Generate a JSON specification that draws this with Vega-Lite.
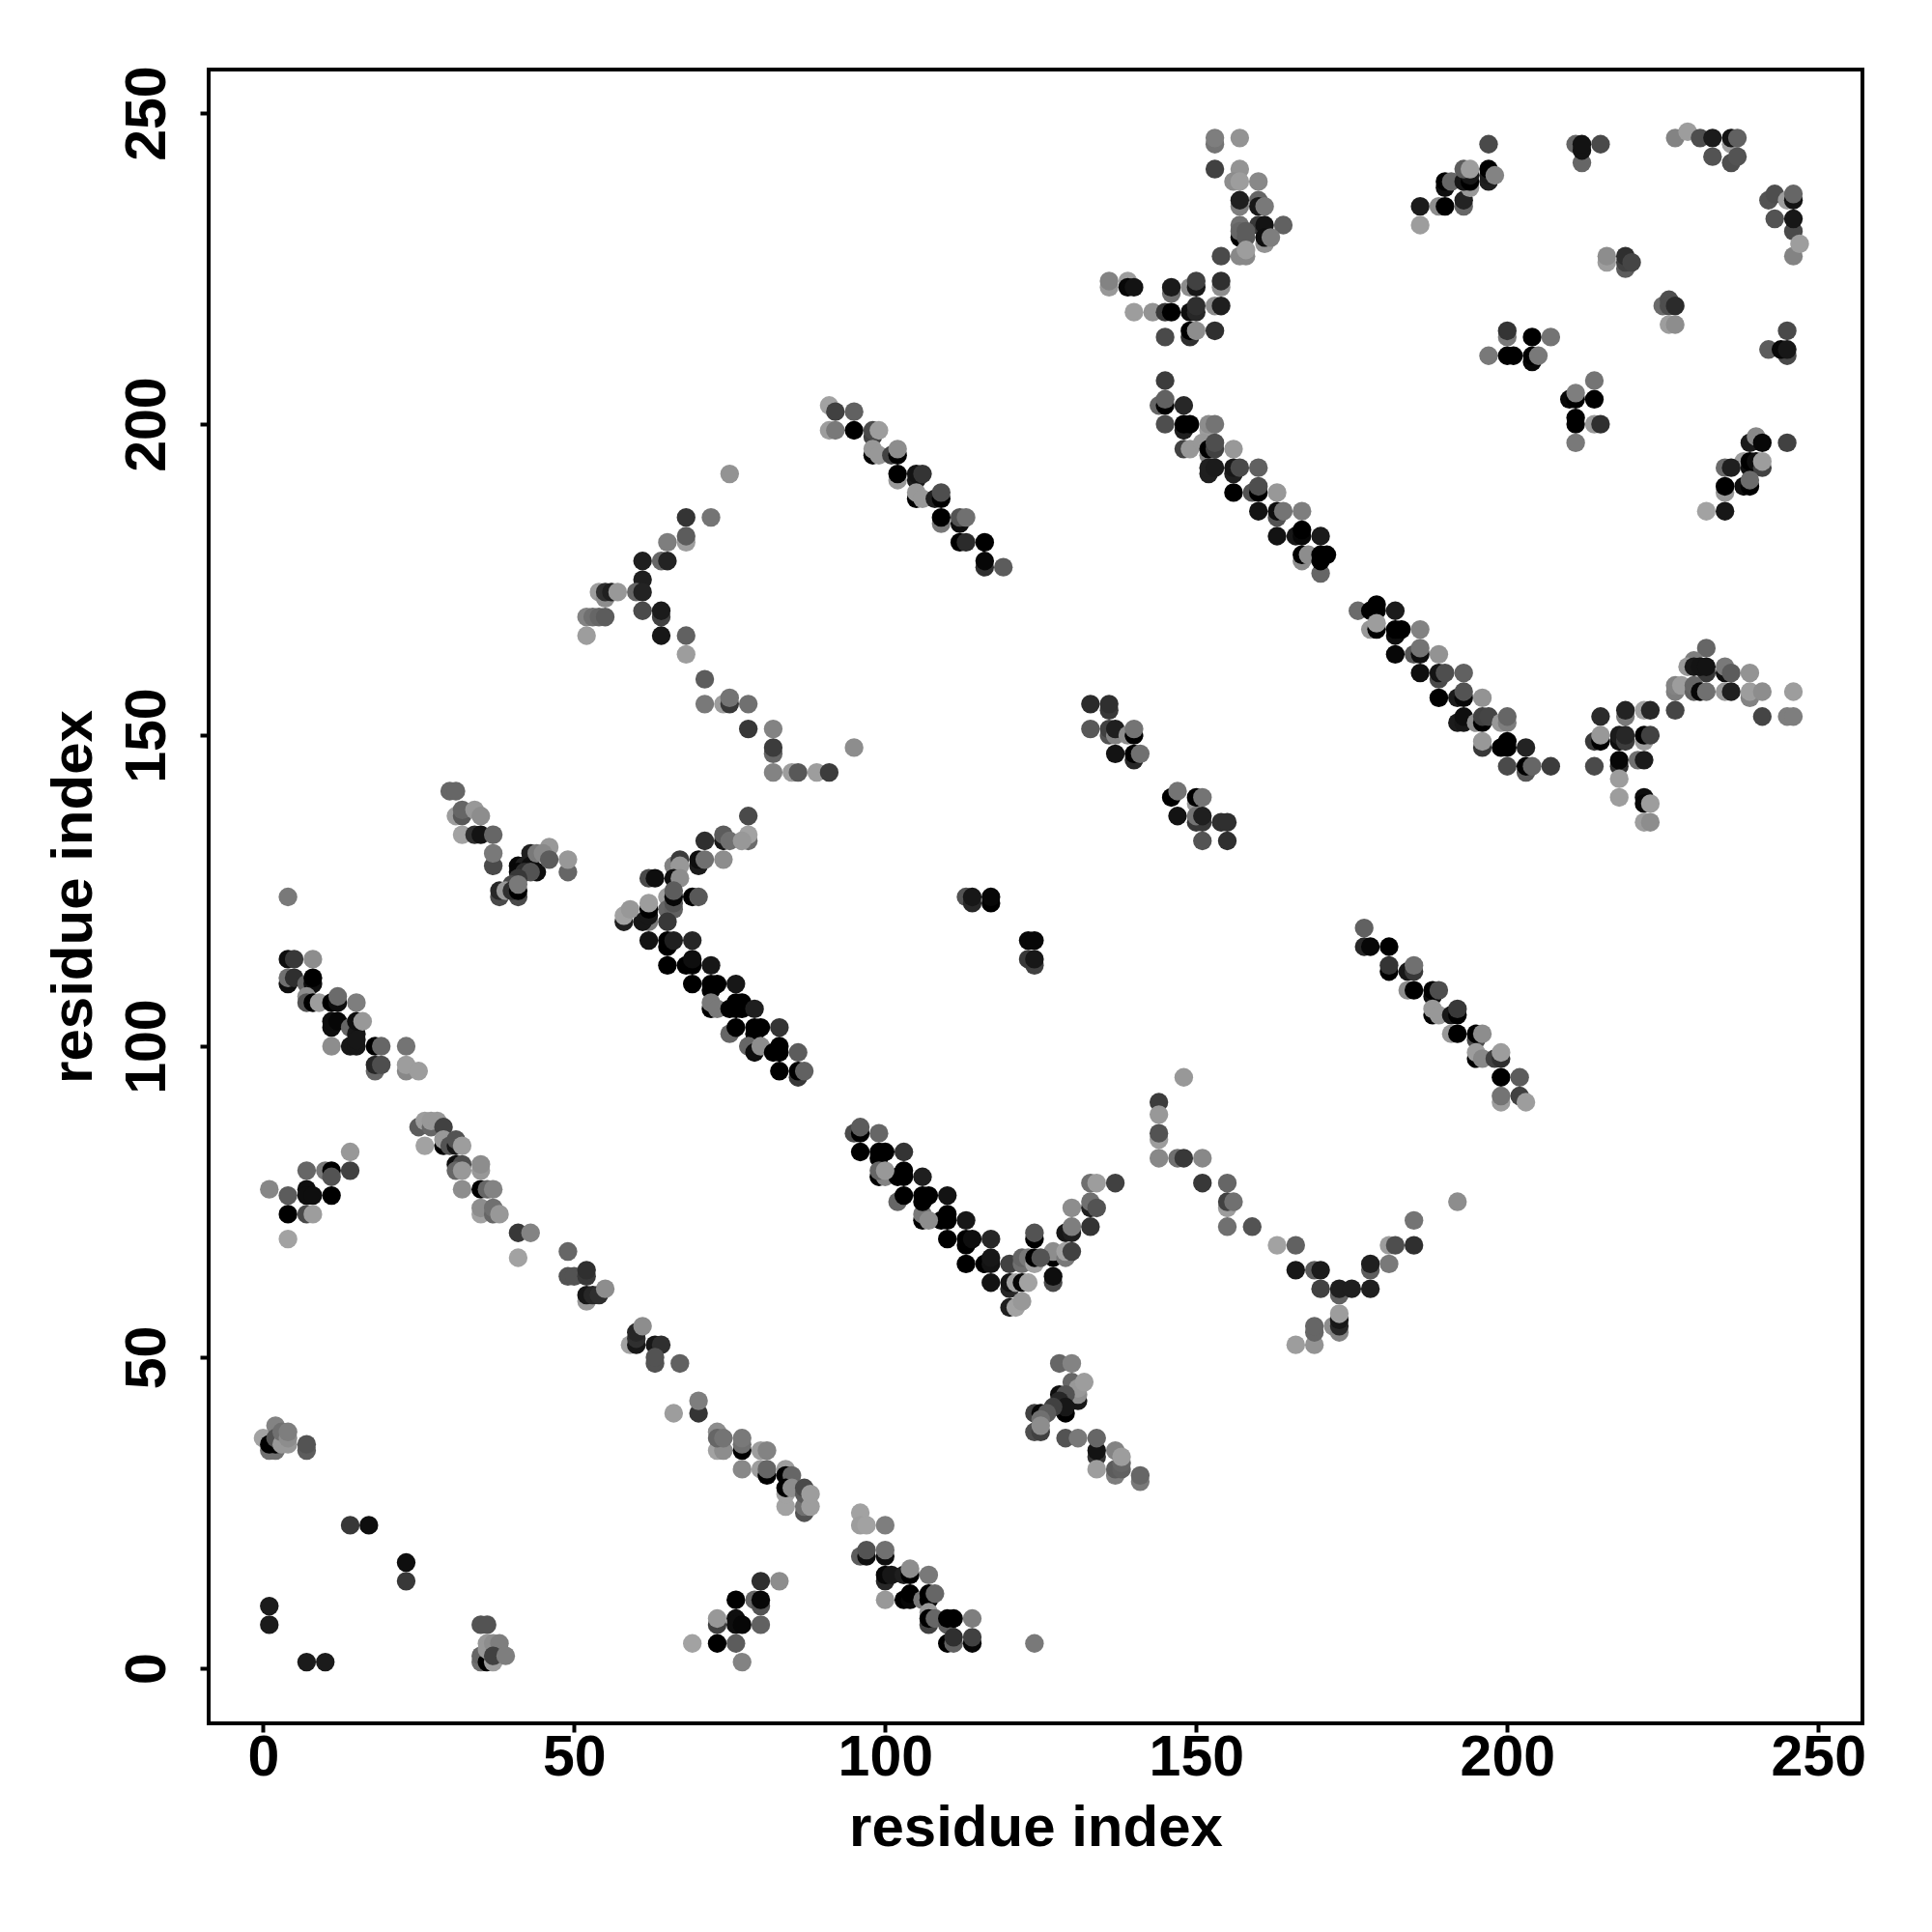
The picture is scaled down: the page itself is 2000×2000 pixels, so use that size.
{"$schema":"https://vega.github.io/schema/vega-lite/v6.json","width":1712,"height":1712,"autosize":{"type":"none"},"padding":{"left":216,"top":72,"right":72,"bottom":216},"background":"white","config":{"view":{"stroke":"black","strokeWidth":4},"axis":{"grid":false,"domain":false,"ticks":true,"tickSize":9,"tickWidth":4,"tickColor":"black","labelColor":"black","titleColor":"black","labelFont":"Liberation Sans","titleFont":"Liberation Sans","labelFontWeight":"bold","titleFontWeight":"bold","labelFontSize":59,"titleFontSize":60}},"data":{"values":[
{"i":1,"j":77,"v":144},{"i":4,"j":76,"v":100},{"i":7,"j":80,"v":110},{"i":10,"j":80,"v":130},{"i":11,"j":80,"v":0},{"i":14,"j":80,"v":70},{"i":14,"j":83,"v":160},{"i":11,"j":79,"v":90},{"i":7,"j":77,"v":10},{"i":7,"j":76,"v":10},{"i":8,"j":76,"v":10},{"i":11,"j":76,"v":0},{"i":4,"j":73,"v":0},{"i":7,"j":73,"v":80},{"i":8,"j":73,"v":165},{"i":4,"j":69,"v":170},
{"i":32,"j":77,"v":150},{"i":35,"j":77,"v":0},{"i":36,"j":77,"v":110},{"i":37,"j":77,"v":140},{"i":35,"j":73,"v":170},{"i":35,"j":74,"v":150},{"i":37,"j":73,"v":110},{"i":37,"j":74,"v":120},{"i":38,"j":73,"v":160},{"i":41,"j":70,"v":60},{"i":43,"j":70,"v":140},{"i":41,"j":66,"v":170},{"i":49,"j":67,"v":110},{"i":49,"j":63,"v":90},{"i":50,"j":63,"v":90},{"i":52,"j":63,"v":60},{"i":52,"j":64,"v":50},{"i":52,"j":59,"v":160},{"i":52,"j":60,"v":20},{"i":53,"j":60,"v":40},{"i":54,"j":60,"v":50},{"i":55,"j":61,"v":150},{"i":59,"j":52,"v":170},{"i":60,"j":52,"v":20},{"i":60,"j":53,"v":50},{"i":60,"j":54,"v":40},{"i":61,"j":55,"v":150},{"i":63,"j":52,"v":20},{"i":64,"j":52,"v":50},{"i":63,"j":49,"v":90},{"i":63,"j":50,"v":90},{"i":67,"j":49,"v":105},{"i":66,"j":41,"v":165},{"i":70,"j":41,"v":55},{"i":70,"j":43,"v":135},{"i":73,"j":35,"v":170},{"i":74,"j":35,"v":150},{"i":73,"j":38,"v":150},{"i":73,"j":37,"v":110},{"i":74,"j":37,"v":125},{"i":77,"j":35,"v":0},{"i":77,"j":36,"v":120},{"i":77,"j":37,"v":130},{"i":77,"j":32,"v":145},{"i":80,"j":35,"v":165},{"i":81,"j":35,"v":140},{"i":80,"j":32,"v":165},{"i":81,"j":31,"v":0},{"i":81,"j":32,"v":110},{"i":84,"j":32,"v":165},{"i":84,"j":31,"v":0},{"i":85,"j":31,"v":110},{"i":84,"j":26,"v":170},{"i":84,"j":28,"v":170},{"i":84,"j":29,"v":0},{"i":85,"j":29,"v":150},{"i":87,"j":25,"v":90},{"i":87,"j":26,"v":120},{"i":87,"j":28,"v":100},{"i":87,"j":29,"v":80},{"i":88,"j":26,"v":165},{"i":88,"j":28,"v":165},
{"i":1,"j":10,"v":25},{"i":1,"j":7,"v":25},{"i":7,"j":1,"v":25},{"i":10,"j":1,"v":25},{"i":14,"j":23,"v":60},{"i":17,"j":23,"v":10},{"i":23,"j":17,"v":10},{"i":23,"j":14,"v":60},{"i":35,"j":7,"v":90},{"i":36,"j":7,"v":90},{"i":35,"j":1,"v":120},{"i":35,"j":2,"v":110},{"i":36,"j":1,"v":0},{"i":37,"j":1,"v":165},{"i":36,"j":4,"v":160},{"i":36,"j":3,"v":160},{"i":37,"j":4,"v":150},{"i":38,"j":4,"v":135},{"i":37,"j":2,"v":70},{"i":39,"j":2,"v":135},
{"i":0,"j":37,"v":170},{"i":1,"j":35,"v":120},{"i":2,"j":35,"v":120},{"i":1,"j":36,"v":0},{"i":2,"j":36,"v":0},{"i":2,"j":39,"v":140},{"i":2,"j":37,"v":90},{"i":3,"j":36,"v":160},{"i":3,"j":38,"v":120},{"i":4,"j":36,"v":160},{"i":4,"j":37,"v":150},{"i":4,"j":38,"v":135},{"i":7,"j":35,"v":100},{"i":7,"j":36,"v":90},
{"i":76,"j":11,"v":0},{"i":73,"j":7,"v":70},{"i":73,"j":8,"v":160},{"i":76,"j":8,"v":10},{"i":76,"j":7,"v":10},{"i":69,"j":4,"v":170},{"i":73,"j":4,"v":0},{"i":76,"j":4,"v":100},{"i":77,"j":1,"v":140},{"i":80,"j":14,"v":50},{"i":83,"j":14,"v":150},{"i":79,"j":11,"v":110},{"i":80,"j":10,"v":90},{"i":80,"j":11,"v":5},{"i":77,"j":7,"v":5},{"i":80,"j":7,"v":105},
{"i":96,"j":25,"v":170},{"i":96,"j":23,"v":165},{"i":97,"j":23,"v":170},{"i":100,"j":23,"v":135},{"i":96,"j":18,"v":100},{"i":97,"j":18,"v":10},{"i":97,"j":19,"v":90},{"i":100,"j":18,"v":10},{"i":100,"j":19,"v":120},{"i":100,"j":14,"v":40},{"i":100,"j":15,"v":5},{"i":101,"j":15,"v":20},{"i":103,"j":15,"v":30},{"i":104,"j":15,"v":0},{"i":104,"j":16,"v":150},{"i":107,"j":15,"v":130},{"i":100,"j":11,"v":160},{"i":103,"j":11,"v":0},{"i":104,"j":11,"v":5},{"i":104,"j":12,"v":0},{"i":106,"j":11,"v":130},{"i":107,"j":11,"v":0},{"i":107,"j":12,"v":0},{"i":108,"j":12,"v":110},{"i":107,"j":9,"v":160},{"i":107,"j":7,"v":70},{"i":107,"j":8,"v":0},{"i":108,"j":8,"v":110},{"i":110,"j":7,"v":100},{"i":110,"j":8,"v":0},{"i":111,"j":8,"v":0},{"i":114,"j":8,"v":135},{"i":110,"j":4,"v":0},{"i":111,"j":4,"v":105},{"i":111,"j":5,"v":50},{"i":114,"j":4,"v":5},{"i":114,"j":5,"v":70},{"i":124,"j":4,"v":130},
{"i":128,"j":49,"v":110},{"i":130,"j":49,"v":140},{"i":131,"j":43,"v":20},{"i":130,"j":46,"v":110},{"i":131,"j":44,"v":150},{"i":131,"j":45,"v":160},{"i":132,"j":46,"v":165},{"i":128,"j":44,"v":10},{"i":129,"j":44,"v":90},{"i":128,"j":43,"v":40},{"i":129,"j":41,"v":0},{"i":129,"j":42,"v":20},{"i":127,"j":42,"v":70},{"i":124,"j":41,"v":70},{"i":125,"j":41,"v":5},{"i":126,"j":41,"v":100},{"i":124,"j":38,"v":85},{"i":125,"j":38,"v":70},{"i":125,"j":40,"v":120},{"i":125,"j":39,"v":150},{"i":129,"j":37,"v":90},{"i":131,"j":37,"v":130},{"i":134,"j":34,"v":55},{"i":134,"j":35,"v":15},{"i":134,"j":37,"v":110},{"i":134,"j":32,"v":165},{"i":137,"j":35,"v":140},{"i":137,"j":31,"v":135},{"i":137,"j":32,"v":100},{"i":138,"j":32,"v":105},{"i":138,"j":33,"v":110},{"i":138,"j":34,"v":165},{"i":141,"j":30,"v":130},{"i":141,"j":31,"v":110},
{"i":137,"j":78,"v":70},{"i":133,"j":78,"v":120},{"i":134,"j":78,"v":165},{"i":130,"j":74,"v":150},{"i":133,"j":74,"v":30},{"i":133,"j":75,"v":120},{"i":134,"j":74,"v":90},{"i":133,"j":71,"v":55},{"i":129,"j":70,"v":20},{"i":130,"j":70,"v":30},{"i":130,"j":71,"v":135},{"i":124,"j":69,"v":0},{"i":124,"j":70,"v":90},{"i":127,"j":66,"v":0},{"i":127,"j":67,"v":150},{"i":129,"j":66,"v":130},{"i":129,"j":67,"v":170},{"i":130,"j":67,"v":70},{"i":120,"j":65,"v":70},{"i":122,"j":65,"v":120},{"i":122,"j":66,"v":110},{"i":123,"j":66,"v":130},{"i":124,"j":65,"v":170},{"i":124,"j":66,"v":0},{"i":125,"j":66,"v":90},{"i":127,"j":62,"v":80},{"i":127,"j":63,"v":10},{"i":117,"j":62,"v":15},{"i":120,"j":61,"v":40},{"i":120,"j":62,"v":15},{"i":121,"j":62,"v":170},{"i":122,"j":62,"v":5},{"i":123,"j":62,"v":170},{"i":120,"j":58,"v":30},{"i":121,"j":58,"v":170},{"i":122,"j":59,"v":160},
{"i":113,"j":65,"v":0},{"i":116,"j":65,"v":0},{"i":117,"j":65,"v":15},{"i":117,"j":66,"v":20},{"i":117,"j":69,"v":40},{"i":113,"j":68,"v":0},{"i":113,"j":69,"v":0},{"i":114,"j":69,"v":10},{"i":110,"j":69,"v":0},{"i":113,"j":72,"v":20},{"i":109,"j":72,"v":0},{"i":110,"j":72,"v":0},{"i":110,"j":73,"v":0},{"i":106,"j":72,"v":0},{"i":106,"j":73,"v":130},{"i":107,"j":72,"v":150},{"i":102,"j":75,"v":110},{"i":103,"j":76,"v":0},{"i":106,"j":75,"v":0},{"i":106,"j":76,"v":0},{"i":107,"j":76,"v":0},{"i":110,"j":76,"v":15},{"i":106,"j":79,"v":30},{"i":99,"j":79,"v":0},{"i":100,"j":79,"v":140},{"i":102,"j":79,"v":0},{"i":103,"j":79,"v":0},
{"i":95,"j":86,"v":80},{"i":96,"j":86,"v":0},{"i":96,"j":87,"v":100},{"i":99,"j":86,"v":110},{"i":96,"j":83,"v":0},{"i":99,"j":82,"v":0},{"i":99,"j":83,"v":0},{"i":100,"j":83,"v":0},{"i":103,"j":83,"v":55},{"i":99,"j":80,"v":110},{"i":100,"j":80,"v":160},{"i":103,"j":80,"v":0},
{"i":144,"j":91,"v":65},{"i":148,"j":95,"v":160},{"i":144,"j":89,"v":160},{"i":144,"j":85,"v":165},{"i":144,"j":86,"v":90},{"i":144,"j":82,"v":145},{"i":147,"j":82,"v":120},{"i":148,"j":82,"v":60},{"i":151,"j":82,"v":145},{"i":151,"j":78,"v":60},{"i":155,"j":78,"v":110},{"i":155,"j":74,"v":165},{"i":155,"j":75,"v":70},{"i":156,"j":75,"v":120},{"i":155,"j":71,"v":120},{"i":159,"j":71,"v":90},{"i":163,"j":68,"v":170},{"i":166,"j":68,"v":105},{"i":166,"j":64,"v":20},{"i":169,"j":64,"v":100},{"i":170,"j":64,"v":25},{"i":170,"j":61,"v":70},{"i":173,"j":60,"v":105},{"i":173,"j":61,"v":30},{"i":175,"j":61,"v":30},{"i":178,"j":61,"v":30},{"i":172,"j":55,"v":150},{"i":173,"j":54,"v":140},{"i":173,"j":55,"v":40},{"i":173,"j":56,"v":20},{"i":173,"j":57,"v":165},{"i":166,"j":52,"v":165},{"i":169,"j":52,"v":155},{"i":169,"j":54,"v":110},{"i":169,"j":55,"v":110},{"i":178,"j":64,"v":100},{"i":178,"j":65,"v":30},{"i":181,"j":65,"v":130},{"i":181,"j":68,"v":165},{"i":182,"j":68,"v":85},{"i":185,"j":68,"v":50},{"i":185,"j":72,"v":125},{"i":192,"j":75,"v":150},
{"i":4,"j":124,"v":130},{"i":30,"j":141,"v":110},{"i":31,"j":141,"v":110},{"i":31,"j":137,"v":165},{"i":32,"j":137,"v":95},{"i":32,"j":138,"v":110},{"i":34,"j":138,"v":160},{"i":35,"j":137,"v":150},{"i":32,"j":134,"v":170},{"i":34,"j":134,"v":50},{"i":35,"j":134,"v":15},{"i":37,"j":134,"v":110},{"i":37,"j":129,"v":80},{"i":37,"j":131,"v":130},{"i":49,"j":128,"v":110},{"i":49,"j":130,"v":160},{"i":46,"j":132,"v":160},{"i":43,"j":131,"v":30},{"i":41,"j":129,"v":5},{"i":42,"j":129,"v":30},{"i":43,"j":129,"v":10},{"i":44,"j":128,"v":10},{"i":44,"j":131,"v":130},{"i":45,"j":131,"v":145},{"i":46,"j":130,"v":100},{"i":41,"j":128,"v":5},{"i":42,"j":128,"v":50},{"i":43,"j":128,"v":90},{"i":41,"j":127,"v":60},{"i":40,"j":126,"v":80},{"i":38,"j":124,"v":80},{"i":38,"j":125,"v":40},{"i":39,"j":125,"v":160},{"i":41,"j":124,"v":80},{"i":40,"j":125,"v":50},{"i":41,"j":125,"v":0},{"i":41,"j":126,"v":130},
{"i":4,"j":114,"v":10},{"i":5,"j":114,"v":60},{"i":8,"j":114,"v":150},{"i":4,"j":110,"v":10},{"i":4,"j":111,"v":120},{"i":5,"j":111,"v":50},{"i":7,"j":110,"v":110},{"i":8,"j":110,"v":10},{"i":8,"j":111,"v":0},{"i":7,"j":108,"v":150},{"i":7,"j":107,"v":90},{"i":8,"j":107,"v":0},{"i":9,"j":107,"v":165},{"i":11,"j":107,"v":0},{"i":12,"j":107,"v":10},{"i":12,"j":108,"v":115},{"i":15,"j":107,"v":135},{"i":11,"j":103,"v":10},{"i":11,"j":104,"v":10},{"i":12,"j":104,"v":5},{"i":14,"j":103,"v":110},{"i":15,"j":102,"v":20},{"i":15,"j":104,"v":10},{"i":16,"j":104,"v":160},{"i":11,"j":100,"v":150},{"i":14,"j":100,"v":20},{"i":15,"j":100,"v":20},{"i":15,"j":101,"v":20},{"i":18,"j":100,"v":0},{"i":19,"j":100,"v":110},{"i":23,"j":100,"v":125},{"i":18,"j":96,"v":110},{"i":18,"j":97,"v":40},{"i":19,"j":97,"v":85},{"i":23,"j":96,"v":145},{"i":23,"j":97,"v":165},{"i":25,"j":96,"v":165},
{"i":71,"j":159,"v":100},{"i":75,"j":192,"v":155},{"i":68,"j":185,"v":55},{"i":72,"j":185,"v":125},{"i":65,"j":181,"v":135},{"i":68,"j":181,"v":165},{"i":68,"j":182,"v":100},{"i":61,"j":178,"v":30},{"i":64,"j":178,"v":110},{"i":65,"j":178,"v":35},{"i":61,"j":175,"v":30},{"i":60,"j":173,"v":110},{"i":61,"j":173,"v":35},{"i":54,"j":173,"v":165},{"i":55,"j":172,"v":150},{"i":55,"j":173,"v":50},{"i":56,"j":173,"v":30},{"i":57,"j":173,"v":160},{"i":61,"j":170,"v":80},{"i":64,"j":169,"v":70},{"i":64,"j":170,"v":25},{"i":52,"j":169,"v":140},{"i":53,"j":169,"v":120},{"i":54,"j":169,"v":110},{"i":55,"j":169,"v":100},{"i":52,"j":166,"v":165},{"i":64,"j":166,"v":20},{"i":68,"j":166,"v":105},{"i":68,"j":163,"v":165},{"i":71,"j":155,"v":130},{"i":74,"j":155,"v":165},{"i":75,"j":155,"v":60},{"i":75,"j":156,"v":125},{"i":78,"j":155,"v":120},{"i":78,"j":151,"v":60},{"i":82,"j":151,"v":140},{"i":82,"j":147,"v":110},{"i":82,"j":148,"v":65},{"i":82,"j":144,"v":140},{"i":85,"j":144,"v":165},{"i":86,"j":144,"v":95},{"i":89,"j":144,"v":165},{"i":91,"j":144,"v":65},{"i":95,"j":148,"v":150},
{"i":78,"j":133,"v":115},{"i":78,"j":134,"v":170},{"i":78,"j":137,"v":80},{"i":71,"j":133,"v":50},{"i":74,"j":133,"v":20},{"i":74,"j":134,"v":100},{"i":75,"j":133,"v":120},{"i":70,"j":129,"v":25},{"i":70,"j":130,"v":10},{"i":71,"j":130,"v":120},{"i":74,"j":130,"v":150},{"i":66,"j":129,"v":140},{"i":67,"j":130,"v":65},{"i":67,"j":129,"v":160},{"i":62,"j":127,"v":80},{"i":63,"j":127,"v":10},{"i":66,"j":127,"v":10},{"i":67,"j":127,"v":150},{"i":77,"j":133,"v":160},
{"i":65,"j":124,"v":165},{"i":65,"j":122,"v":110},{"i":66,"j":122,"v":105},{"i":66,"j":123,"v":90},{"i":66,"j":124,"v":5},{"i":66,"j":125,"v":100},{"i":69,"j":124,"v":0},{"i":70,"j":124,"v":95},{"i":65,"j":120,"v":60},{"i":62,"j":120,"v":130},{"i":61,"j":120,"v":20},{"i":62,"j":121,"v":20},{"i":62,"j":122,"v":0},{"i":62,"j":123,"v":165},{"i":58,"j":120,"v":30},{"i":58,"j":121,"v":170},{"i":59,"j":122,"v":160},{"i":62,"j":117,"v":15},{"i":65,"j":116,"v":0},{"i":65,"j":117,"v":0},{"i":66,"j":117,"v":30},{"i":69,"j":117,"v":40},{"i":65,"j":113,"v":0},{"i":68,"j":113,"v":0},{"i":69,"j":113,"v":0},{"i":69,"j":114,"v":10},{"i":72,"j":113,"v":20},{"i":69,"j":110,"v":0},{"i":72,"j":109,"v":0},{"i":72,"j":110,"v":0},{"i":73,"j":110,"v":0},{"i":76,"j":110,"v":20},{"i":72,"j":106,"v":0},{"i":72,"j":107,"v":130},{"i":73,"j":106,"v":130},{"i":75,"j":106,"v":0},{"i":76,"j":106,"v":0},{"i":76,"j":107,"v":0},{"i":77,"j":106,"v":0},{"i":77,"j":107,"v":0},{"i":75,"j":102,"v":110},{"i":76,"j":103,"v":0},{"i":79,"j":106,"v":30},{"i":79,"j":102,"v":0},{"i":79,"j":103,"v":0},{"i":80,"j":103,"v":0},{"i":83,"j":103,"v":55},{"i":78,"j":100,"v":110},{"i":79,"j":99,"v":10},{"i":80,"j":100,"v":150},{"i":82,"j":99,"v":0},{"i":83,"j":99,"v":0},{"i":83,"j":100,"v":0},{"i":86,"j":99,"v":100},{"i":83,"j":96,"v":0},{"i":86,"j":95,"v":60},{"i":86,"j":96,"v":0},{"i":87,"j":96,"v":105},
{"i":113,"j":124,"v":90},{"i":114,"j":123,"v":40},{"i":114,"j":124,"v":20},{"i":117,"j":123,"v":0},{"i":117,"j":124,"v":5},{"i":123,"j":117,"v":5},{"i":124,"j":117,"v":5},{"i":124,"j":113,"v":70},{"i":123,"j":114,"v":60},{"i":124,"j":114,"v":20},
{"i":133,"j":155,"v":45},{"i":136,"j":154,"v":60},{"i":136,"j":155,"v":50},{"i":133,"j":151,"v":95},{"i":136,"j":150,"v":90},{"i":136,"j":151,"v":70},{"i":137,"j":150,"v":140},{"i":137,"j":151,"v":30},{"i":139,"j":150,"v":150},{"i":140,"j":150,"v":0},{"i":140,"j":151,"v":125},{"i":137,"j":147,"v":15},{"i":140,"j":146,"v":40},{"i":140,"j":147,"v":0},{"i":141,"j":147,"v":120},{"i":146,"j":140,"v":0},{"i":147,"j":141,"v":125},{"i":150,"j":139,"v":160},{"i":150,"j":140,"v":0},{"i":151,"j":140,"v":125},{"i":147,"j":137,"v":15},{"i":150,"j":136,"v":60},{"i":151,"j":136,"v":60},{"i":150,"j":137,"v":125},{"i":151,"j":137,"v":30},{"i":154,"j":136,"v":50},{"i":155,"j":136,"v":50},{"i":151,"j":133,"v":90},{"i":155,"j":133,"v":50},
{"i":177,"j":119,"v":105},{"i":177,"j":116,"v":40},{"i":178,"j":116,"v":5},{"i":181,"j":116,"v":0},{"i":181,"j":112,"v":0},{"i":181,"j":113,"v":55},{"i":184,"j":112,"v":20},{"i":185,"j":112,"v":60},{"i":185,"j":113,"v":120},{"i":184,"j":109,"v":150},{"i":185,"j":109,"v":0},{"i":188,"j":108,"v":10},{"i":188,"j":109,"v":0},{"i":189,"j":109,"v":85},{"i":188,"j":105,"v":0},{"i":188,"j":106,"v":160},{"i":189,"j":105,"v":160},{"i":191,"j":105,"v":20},{"i":192,"j":105,"v":0},{"i":192,"j":106,"v":60},{"i":191,"j":102,"v":160},{"i":192,"j":102,"v":0},{"i":195,"j":101,"v":80},{"i":195,"j":102,"v":0},{"i":196,"j":102,"v":150},{"i":195,"j":98,"v":0},{"i":195,"j":99,"v":165},{"i":196,"j":98,"v":145},{"i":198,"j":98,"v":70},{"i":199,"j":98,"v":50},{"i":199,"j":99,"v":165},{"i":199,"j":95,"v":0},{"i":202,"j":95,"v":100},{"i":199,"j":91,"v":165},{"i":199,"j":92,"v":125},{"i":202,"j":92,"v":70},{"i":203,"j":91,"v":165},
{"i":176,"j":170,"v":115},{"i":178,"j":170,"v":0},{"i":179,"j":170,"v":0},{"i":179,"j":171,"v":0},{"i":182,"j":170,"v":25},{"i":178,"j":167,"v":160},{"i":179,"j":167,"v":0},{"i":179,"j":168,"v":165},{"i":182,"j":166,"v":10},{"i":182,"j":167,"v":0},{"i":183,"j":167,"v":0},{"i":186,"j":167,"v":140},{"i":182,"j":163,"v":5},{"i":185,"j":163,"v":95},{"i":186,"j":163,"v":10},{"i":186,"j":164,"v":125},{"i":189,"j":163,"v":155},{"i":186,"j":160,"v":10},{"i":189,"j":159,"v":80},{"i":189,"j":160,"v":15},{"i":190,"j":160,"v":85},{"i":193,"j":160,"v":105},{"i":189,"j":156,"v":0},{"i":192,"j":156,"v":25},{"i":193,"j":156,"v":5},{"i":193,"j":157,"v":90},{"i":196,"j":156,"v":155},{"i":192,"j":152,"v":25},{"i":193,"j":152,"v":20},{"i":193,"j":153,"v":10},{"i":195,"j":152,"v":150},{"i":196,"j":152,"v":0},{"i":196,"j":153,"v":70},{"i":197,"j":153,"v":75},{"i":199,"j":152,"v":160},{"i":200,"j":152,"v":135},{"i":200,"j":153,"v":110},{"i":196,"j":148,"v":60},{"i":196,"j":149,"v":160},{"i":199,"j":148,"v":0},{"i":200,"j":148,"v":0},{"i":200,"j":149,"v":0},{"i":203,"j":148,"v":35},{"i":200,"j":145,"v":80},{"i":203,"j":144,"v":95},{"i":203,"j":145,"v":0},{"i":204,"j":145,"v":110},{"i":207,"j":145,"v":65},
{"i":145,"j":207,"v":65},{"i":144,"j":203,"v":110},{"i":145,"j":203,"v":0},{"i":145,"j":204,"v":105},{"i":148,"j":203,"v":40},{"i":145,"j":200,"v":85},{"i":148,"j":199,"v":30},{"i":148,"j":200,"v":0},{"i":149,"j":200,"v":0},{"i":152,"j":199,"v":165},{"i":152,"j":200,"v":150},{"i":153,"j":200,"v":125},{"i":148,"j":196,"v":70},{"i":149,"j":196,"v":160},{"i":151,"j":197,"v":160},{"i":152,"j":195,"v":140},{"i":152,"j":196,"v":0},{"i":153,"j":196,"v":70},{"i":153,"j":197,"v":85},{"i":156,"j":196,"v":160},{"i":152,"j":192,"v":30},{"i":152,"j":193,"v":30},{"i":153,"j":193,"v":25},{"i":156,"j":192,"v":30},{"i":156,"j":193,"v":20},{"i":157,"j":193,"v":80},{"i":160,"j":193,"v":105},{"i":156,"j":189,"v":0},{"i":159,"j":189,"v":90},{"i":160,"j":189,"v":0},{"i":160,"j":190,"v":85},{"i":163,"j":189,"v":160},{"i":160,"j":186,"v":15},{"i":163,"j":185,"v":90},{"i":163,"j":186,"v":10},{"i":164,"j":186,"v":125},{"i":167,"j":186,"v":135},{"i":163,"j":182,"v":15},{"i":166,"j":182,"v":20},{"i":167,"j":182,"v":5},{"i":167,"j":183,"v":0},{"i":170,"j":182,"v":25},{"i":167,"j":178,"v":150},{"i":167,"j":179,"v":0},{"i":168,"j":179,"v":150},{"i":170,"j":176,"v":110},{"i":170,"j":178,"v":0},{"i":170,"j":179,"v":0},{"i":171,"j":179,"v":0},
{"i":210,"j":204,"v":5},{"i":211,"j":204,"v":0},{"i":211,"j":205,"v":135},{"i":214,"j":204,"v":0},{"i":214,"j":207,"v":125},{"i":211,"j":200,"v":0},{"i":211,"j":201,"v":0},{"i":214,"j":200,"v":160},{"i":215,"j":200,"v":50},{"i":211,"j":197,"v":130},
{"i":245,"j":197,"v":70},{"i":239,"j":197,"v":25},{"i":240,"j":198,"v":145},{"i":241,"j":197,"v":5},{"i":238,"j":194,"v":165},{"i":239,"j":193,"v":10},{"i":239,"j":194,"v":0},{"i":240,"j":194,"v":10},{"i":241,"j":193,"v":70},{"i":241,"j":194,"v":165},{"i":235,"j":193,"v":115},{"i":236,"j":193,"v":30},{"i":235,"j":189,"v":160},{"i":235,"j":190,"v":0},{"i":238,"j":190,"v":10},{"i":239,"j":190,"v":0},{"i":239,"j":191,"v":115},{"i":232,"j":186,"v":170},{"i":235,"j":186,"v":20},
{"i":232,"j":164,"v":110},{"i":230,"j":162,"v":135},{"i":229,"j":161,"v":160},{"i":230,"j":161,"v":20},{"i":232,"j":160,"v":60},{"i":231,"j":161,"v":15},{"i":232,"j":161,"v":15},{"i":235,"j":160,"v":10},{"i":235,"j":161,"v":130},{"i":236,"j":160,"v":100},{"i":239,"j":160,"v":155},{"i":227,"j":157,"v":135},{"i":227,"j":158,"v":140},{"i":228,"j":158,"v":165},{"i":230,"j":157,"v":105},{"i":230,"j":158,"v":110},{"i":231,"j":157,"v":5},{"i":232,"j":157,"v":120},{"i":235,"j":157,"v":160},{"i":236,"j":157,"v":30},{"i":239,"j":156,"v":140},{"i":239,"j":157,"v":165},{"i":241,"j":157,"v":150},{"i":246,"j":157,"v":165},{"i":227,"j":154,"v":75},{"i":241,"j":153,"v":75},{"i":245,"j":153,"v":135},{"i":246,"j":153,"v":135},
{"i":215,"j":153,"v":45},{"i":219,"j":153,"v":130},{"i":219,"j":154,"v":35},{"i":222,"j":154,"v":170},{"i":223,"j":154,"v":40},{"i":218,"j":149,"v":10},{"i":218,"j":150,"v":25},{"i":219,"j":149,"v":65},{"i":219,"j":150,"v":40},{"i":222,"j":149,"v":165},{"i":222,"j":150,"v":0},{"i":223,"j":150,"v":70},{"i":214,"j":149,"v":60},{"i":215,"j":149,"v":0},{"i":215,"j":150,"v":160},{"i":218,"j":145,"v":50},{"i":218,"j":146,"v":5},{"i":221,"j":146,"v":120},{"i":222,"j":146,"v":25},{"i":214,"j":145,"v":80},{"i":218,"j":143,"v":165},{"i":218,"j":140,"v":165},{"i":222,"j":140,"v":10},{"i":222,"j":139,"v":5},{"i":223,"j":139,"v":165},{"i":222,"j":136,"v":165},{"i":223,"j":136,"v":150},
{"i":197,"j":245,"v":80},{"i":186,"j":235,"v":25},{"i":186,"j":232,"v":165},{"i":189,"j":235,"v":150},{"i":190,"j":235,"v":0},{"i":193,"j":235,"v":110},{"i":193,"j":236,"v":35},{"i":190,"j":238,"v":10},{"i":190,"j":239,"v":0},{"i":191,"j":239,"v":110},{"i":194,"j":238,"v":160},{"i":193,"j":239,"v":20},{"i":194,"j":239,"v":0},{"i":194,"j":240,"v":20},{"i":193,"j":241,"v":100},{"i":194,"j":241,"v":165},{"i":197,"j":239,"v":30},{"i":197,"j":240,"v":25},{"i":197,"j":241,"v":0},{"i":198,"j":240,"v":140},
{"i":212,"j":242,"v":110},{"i":211,"j":245,"v":110},{"i":212,"j":244,"v":15},{"i":212,"j":245,"v":15},{"i":215,"j":245,"v":80},{"i":227,"j":246,"v":140},{"i":229,"j":247,"v":165},{"i":231,"j":246,"v":85},{"i":233,"j":246,"v":25},{"i":236,"j":245,"v":165},{"i":236,"j":246,"v":15},{"i":237,"j":246,"v":105},{"i":233,"j":243,"v":90},{"i":236,"j":242,"v":85},{"i":237,"j":243,"v":90},{"i":242,"j":236,"v":90},{"i":243,"j":237,"v":85},{"i":245,"j":236,"v":165},{"i":246,"j":236,"v":15},{"i":246,"j":237,"v":110},{"i":243,"j":233,"v":90},{"i":246,"j":231,"v":80},{"i":246,"j":233,"v":20},{"i":246,"j":227,"v":140},{"i":247,"j":229,"v":165},
{"i":216,"j":226,"v":165},{"i":216,"j":227,"v":150},{"i":219,"j":225,"v":100},{"i":219,"j":226,"v":70},{"i":219,"j":227,"v":50},{"i":220,"j":226,"v":75},{"i":225,"j":219,"v":115},{"i":226,"j":220,"v":85},{"i":226,"j":219,"v":85},{"i":227,"j":219,"v":45},{"i":226,"j":216,"v":165},{"i":227,"j":216,"v":150},{"i":200,"j":214,"v":130},{"i":200,"j":215,"v":55},{"i":204,"j":214,"v":0},{"i":207,"j":214,"v":125},{"i":197,"j":211,"v":130},{"i":200,"j":211,"v":0},{"i":201,"j":211,"v":0},{"i":204,"j":210,"v":5},{"i":204,"j":211,"v":0},{"i":205,"j":211,"v":130},{"i":245,"j":215,"v":80},{"i":242,"j":212,"v":100},{"i":245,"j":211,"v":80},{"i":244,"j":212,"v":5},{"i":245,"j":212,"v":20},
{"i":153,"j":245,"v":125},{"i":153,"j":246,"v":135},{"i":157,"j":246,"v":155},{"i":153,"j":241,"v":70},{"i":157,"j":241,"v":155},{"i":156,"j":239,"v":150},{"i":157,"j":239,"v":165},{"i":160,"j":239,"v":145},{"i":157,"j":235,"v":135},{"i":157,"j":236,"v":30},{"i":160,"j":236,"v":110},{"i":160,"j":235,"v":20},{"i":161,"j":235,"v":130},{"i":157,"j":232,"v":120},{"i":160,"j":232,"v":60},{"i":161,"j":229,"v":155},{"i":161,"j":232,"v":15},{"i":164,"j":232,"v":105},{"i":157,"j":230,"v":0},{"i":157,"j":231,"v":110},{"i":158,"j":230,"v":100},{"i":158,"j":231,"v":100},{"i":161,"j":230,"v":10},{"i":162,"j":230,"v":135},{"i":154,"j":227,"v":80},{"i":157,"j":227,"v":145},{"i":158,"j":227,"v":145},{"i":158,"j":228,"v":165},
{"i":136,"j":222,"v":160},{"i":136,"j":223,"v":140},{"i":139,"j":223,"v":165},{"i":139,"j":222,"v":5},{"i":140,"j":222,"v":15},{"i":146,"j":221,"v":120},{"i":146,"j":222,"v":25},{"i":149,"j":222,"v":150},{"i":150,"j":222,"v":20},{"i":150,"j":223,"v":70},{"i":154,"j":222,"v":150},{"i":154,"j":223,"v":50},{"i":140,"j":218,"v":165},{"i":143,"j":218,"v":155},{"i":145,"j":218,"v":60},{"i":146,"j":218,"v":0},{"i":149,"j":218,"v":10},{"i":150,"j":218,"v":40},{"i":150,"j":219,"v":50},{"i":153,"j":219,"v":150},{"i":154,"j":219,"v":30},{"i":145,"j":214,"v":80},{"i":149,"j":214,"v":50},{"i":149,"j":215,"v":0},{"i":150,"j":215,"v":150},{"i":153,"j":215,"v":50},
{"i":91,"j":203,"v":170},{"i":92,"j":202,"v":70},{"i":95,"j":202,"v":105},{"i":91,"j":199,"v":165},{"i":92,"j":199,"v":130},{"i":95,"j":199,"v":0},{"i":98,"j":198,"v":70},{"i":98,"j":199,"v":80},{"i":99,"j":199,"v":165},{"i":98,"j":195,"v":0},{"i":98,"j":196,"v":160},{"i":99,"j":195,"v":160},{"i":101,"j":195,"v":70},{"i":102,"j":195,"v":0},{"i":102,"j":196,"v":150},{"i":102,"j":191,"v":160},{"i":102,"j":192,"v":0},{"i":105,"j":191,"v":25},{"i":105,"j":192,"v":15},{"i":106,"j":192,"v":55},{"i":105,"j":188,"v":0},{"i":105,"j":189,"v":160},{"i":106,"j":188,"v":160},{"i":108,"j":188,"v":30},{"i":109,"j":188,"v":0},{"i":109,"j":189,"v":85},{"i":109,"j":184,"v":130},{"i":109,"j":185,"v":0},{"i":112,"j":184,"v":10},{"i":112,"j":185,"v":90},{"i":113,"j":185,"v":120},{"i":112,"j":181,"v":0},{"i":113,"j":181,"v":45},{"i":116,"j":181,"v":0},{"i":116,"j":177,"v":50},{"i":116,"j":178,"v":5},{"i":119,"j":177,"v":100},
{"i":25,"j":87,"v":100},{"i":26,"j":88,"v":165},{"i":27,"j":87,"v":110},{"i":27,"j":88,"v":160},{"i":28,"j":88,"v":160},{"i":29,"j":87,"v":70},{"i":26,"j":84,"v":170},{"i":29,"j":84,"v":0},{"i":29,"j":85,"v":160},{"i":30,"j":84,"v":90},{"i":31,"j":84,"v":20},{"i":31,"j":85,"v":90},{"i":32,"j":84,"v":165},{"i":31,"j":81,"v":10},{"i":32,"j":81,"v":85},{"i":31,"j":80,"v":110},{"i":32,"j":80,"v":160},{"i":35,"j":80,"v":160},{"i":35,"j":81,"v":150}
]},"mark":{"type":"point","filled":true,"shape":"circle","size":375,"opacity":1,"strokeWidth":0},"encoding":{"x":{"field":"i","type":"quantitative","scale":{"domain":[-8.75,257.1],"nice":false,"zero":false},"axis":{"values":[0,50,100,150,200,250],"title":"residue index","labelAngle":0,"labelAlign":"center","labelBaseline":"alphabetic","labelPadding":44,"titlePadding":14}},"y":{"field":"j","type":"quantitative","scale":{"domain":[-8.85,257],"nice":false,"zero":false},"axis":{"values":[0,50,100,150,200,250],"title":"residue index","labelAngle":-90,"labelAlign":"center","labelBaseline":"alphabetic","labelPadding":37,"titlePadding":16}},"color":{"field":"v","type":"quantitative","scale":{"domain":[0,255],"range":["#000000","#ffffff"]},"legend":null}}}
